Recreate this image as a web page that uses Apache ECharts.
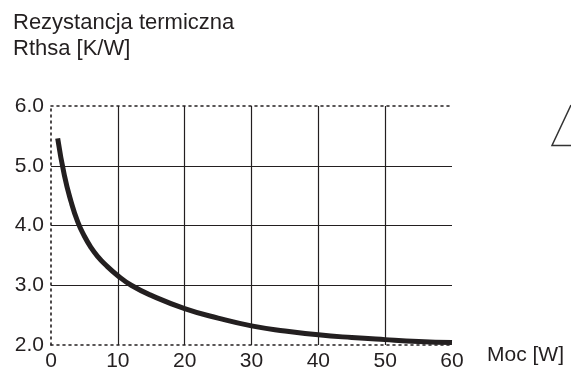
<!DOCTYPE html>
<html>
<head>
<meta charset="utf-8">
<script src="https://cdn.jsdelivr.net/npm/echarts@6/dist/echarts.min.js"></script>
<style>
html,body{margin:0;padding:0;background:#fff;}
#chart{width:571px;height:376px;}
</style>
</head>
<body>
<div id="chart"></div>
<script>
// Data
var powerW = [1, 2, 3, 4, 5, 6, 7, 8, 10, 12, 15, 20, 25, 30, 35, 40, 45, 50, 55, 60];
var resistanceKW = [5.46, 4.84, 4.40, 4.06, 3.82, 3.63, 3.48, 3.36, 3.16, 3.0, 2.83, 2.61, 2.45, 2.32, 2.235, 2.17, 2.125, 2.09, 2.06, 2.04];
var xTicks = [0, 10, 20, 30, 40, 50, 60];
var yTicks = [2.0, 3.0, 4.0, 5.0, 6.0];
var titleLines = ['Rezystancja termiczna', 'Rthsa [K/W]'];
var xName = 'Moc [W]';

var points = powerW.map(function (x, i) { return [x, resistanceKW[i]]; });
var ink = '#231f20';
var font = '"Liberation Sans", Arial, Helvetica, sans-serif';

var chart = echarts.init(document.getElementById('chart'), null, {renderer: 'canvas'});
chart.setOption({
  animation: false,
  backgroundColor: '#ffffff',
  title: {
    text: titleLines.join('\n'),
    left: 8, top: 5,
    textStyle: {fontFamily: font, fontSize: 22, fontWeight: 'normal', color: ink, lineHeight: 26}
  },
  grid: {left: 51, right: 119, top: 106, bottom: 31, containLabel: false},
  xAxis: [{
    type: 'value', min: xTicks[0], max: xTicks[xTicks.length - 1], interval: 10,
    name: xName, nameLocation: 'end', nameGap: 35,
    nameTextStyle: {fontFamily: font, fontSize: 21, color: ink, verticalAlign: 'top', padding: [0, 0, 0, 0]},
    axisLine: {show: true, lineStyle: {color: ink, width: 1.6, type: [2, 4]}},
    axisTick: {show: false},
    axisLabel: {fontFamily: font, fontSize: 21, color: ink, margin: 6},
    splitLine: {show: true, showMinLine: false, showMaxLine: false, lineStyle: {color: ink, width: 1.2, type: 'solid'}}
  }, {
    type: 'value', position: 'top', min: 0, max: 60, interval: 10,
    axisLine: {show: true, onZero: false, lineStyle: {color: ink, width: 1.6, type: [2, 4]}},
    axisTick: {show: false}, axisLabel: {show: false}, splitLine: {show: false}
  }],
  yAxis: {
    type: 'value', min: yTicks[0], max: yTicks[yTicks.length - 1], interval: 1,
    axisLine: {show: true, onZero: false, lineStyle: {color: ink, width: 1.6, type: [2, 4]}},
    axisTick: {show: false},
    axisLabel: {fontFamily: font, fontSize: 21, color: ink, margin: 7,
      formatter: function (v) { return v.toFixed(1); }},
    splitLine: {show: true, showMinLine: false, showMaxLine: false, lineStyle: {color: ink, width: 1.2, type: 'solid'}}
  },
  series: [{
    type: 'line', data: points, smooth: 0.5, showSymbol: false, symbol: 'none',
    lineStyle: {color: ink, width: 5, cap: 'butt', join: 'round'}, clip: false
  }],
  graphic: [{
    type: 'polyline', silent: true,
    shape: {points: [[571, 105], [552, 145.5], [571, 145.5]]},
    style: {stroke: '#333', lineWidth: 1.5, fill: null}
  }]
});
</script>
</body>
</html>
